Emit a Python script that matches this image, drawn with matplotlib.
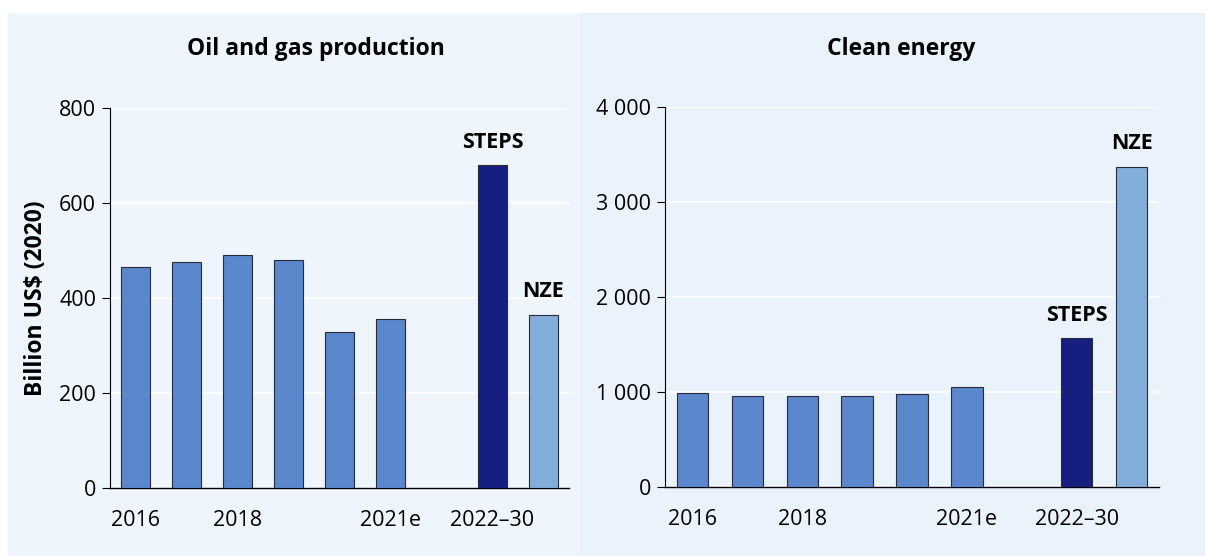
import matplotlib
matplotlib.use("Agg")
import matplotlib.pyplot as plt
from matplotlib.patches import Rectangle
from matplotlib.ticker import FuncFormatter

plt.rcParams['font.family'] = ['Open Sans', 'DejaVu Sans']

categories = ["2016", "2017", "2018", "2019", "2020", "2021e", "", "STEPS", "NZE"]
tick_pos = [0, 2, 5, 7]
tick_labels = ["2016", "2018", "2021e", "2022–30"]

oil_gas = [466, 476, 490, 480, 329, 355, None, 680, 365]
clean = [985, 963, 963, 960, 974, 1052, None, 1567, 3370]

hist_color = "#5B87CC"
steps_color = "#161E80"
nze_color = "#82AEDB"
colors = [hist_color] * 6 + [None, steps_color, nze_color]

fig = plt.figure(figsize=(12.05, 5.56), dpi=100)
fig.patch.set_facecolor("white")
fig.patches.append(Rectangle((8 / 1205, 0), 572 / 1205, 1 - 13 / 556,
                             transform=fig.transFigure, color="#EEF5FC", zorder=-10))
fig.patches.append(Rectangle((580 / 1205, 0), 625 / 1205, 1 - 13 / 556,
                             transform=fig.transFigure, color="#EAF3FC", zorder=-10))

ax1 = fig.add_axes([110 / 1205, 68 / 556, 459 / 1205, 380 / 556])
ax2 = fig.add_axes([665 / 1205, 69 / 556, 494 / 1205, 380 / 556])

fs = 15.5
title_fs = 16.5


def draw(ax, values, ymax, step):
    for i, v in enumerate(values):
        if v is None:
            continue
        ax.bar(i, v, width=0.57, color=colors[i], edgecolor="#2a2a3a", linewidth=0.8, zorder=3)
    ax.set_xlim(-0.5, len(values) - 0.5)
    ax.set_ylim(0, ymax)
    ax.set_yticks(range(0, ymax + 1, step))
    ax.yaxis.set_major_formatter(FuncFormatter(lambda v, p: f"{int(v):,}".replace(",", " ")))
    ax.set_xticks(tick_pos)
    ax.set_xticklabels(tick_labels)
    ax.tick_params(axis="x", length=0, pad=16, labelsize=fs)
    ax.tick_params(axis="y", length=6, width=0.8, labelsize=fs, pad=4)
    ax.set_facecolor("none")
    ax.grid(axis="y", color="white", linewidth=1.2, zorder=0)
    ax.set_axisbelow(True)
    for s in ["top", "right"]:
        ax.spines[s].set_visible(False)
    ax.spines["left"].set_color("black")
    ax.spines["bottom"].set_color("black")
    ax.spines["left"].set_linewidth(0.8)
    ax.spines["bottom"].set_linewidth(1.0)
    for i in (7, 8):
        ax.annotate(categories[i], (i, values[i]), xytext=(0, 9), textcoords="offset points",
                    ha="center", va="bottom", fontsize=fs, fontweight="bold")


draw(ax1, oil_gas, 800, 200)
draw(ax2, clean, 4000, 1000)

ax1.set_ylabel("Billion US$ (2020)", fontsize=title_fs, fontweight="bold", labelpad=8)

fig.text(316 / 1205, 1 - 49 / 556, "Oil and gas production", ha="center", va="center",
         fontsize=title_fs, fontweight="bold")
fig.text(901 / 1205, 1 - 49 / 556, "Clean energy", ha="center", va="center",
         fontsize=title_fs, fontweight="bold")

fig.savefig("out.png", dpi=100, facecolor=fig.get_facecolor())
